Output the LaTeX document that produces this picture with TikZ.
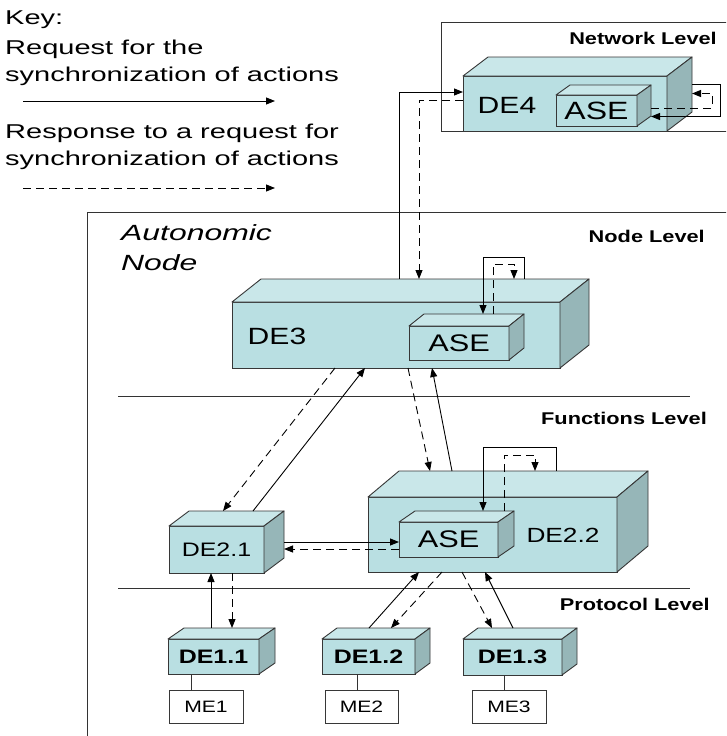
\documentclass[tikz,border=0pt]{standalone}
\usepackage{fontspec}
\setmainfont{Liberation Sans}[FakeStretch=1.28]
\newfontfamily\keyfont{Liberation Sans}[FakeStretch=1.45]
\usetikzlibrary{arrows.meta}

\definecolor{frontc}{RGB}{185,223,226}
\definecolor{topc}{RGB}{201,231,233}
\definecolor{sidec}{RGB}{150,182,184}
\definecolor{linec}{RGB}{55,55,55}

\newcommand{\fsz}[1]{\fontsize{#1}{#1}\selectfont}
% top and side face of a box, plus back anchors
\newcommand{\cubefaces}[3]{%
  \filldraw[topface] (#1.north west) -- ++(#2,-#3) -- ([shift={(#2,-#3)}]#1.north east) -- (#1.north east) -- cycle;
  \filldraw[sideface] (#1.north east) -- ++(#2,-#3) -- ([shift={(#2,-#3)}]#1.south east) -- (#1.south east) -- cycle;
  \coordinate (#1-tb) at ([shift={(#2,-#3)}]#1.north);
  \coordinate (#1-rb) at ([shift={(#2,-#3)}]#1.east);
}

\begin{document}
\begin{tikzpicture}[x=1pt,y=-1pt,
    front/.style={draw=linec, fill=frontc, line width=0.9pt, inner sep=0pt, outer sep=0pt},
    topface/.style={draw=linec, fill=topc, line width=0.9pt, line join=round},
    sideface/.style={draw=linec, fill=sidec, line width=0.9pt, line join=round},
    mebox/.style={draw=linec, fill=white, line width=0.9pt, inner sep=0pt, outer sep=0pt, font=\fsz{16.5}},
    frame/.style={draw=black!80, line width=0.9pt},
    req/.style={draw=black, line width=0.9pt, -{Triangle[length=9pt,width=7pt]}},
    resp/.style={req, dash pattern=on 8pt off 5pt},
    lvl/.style={font=\bfseries\fsz{17}, anchor=east, inner sep=0pt},
    keytxt/.style={font=\keyfont\fsz{20}, anchor=west, inner sep=0pt},
  ]
  \fill[white] (0,0) rectangle (726,736);
  \clip (0,0) rectangle (726,736);

  % Frames and level lines
  \draw[frame] (441,22) rectangle (740,131);
  \draw[frame] (87,212) rectangle (740,745);
  \draw[frame] (118,396) -- (690,396);
  \draw[frame] (118,588) -- (690,588);

  % Key
  \node[keytxt] (keyhead) at (5,20) {Key:};
  \node[keytxt] (reqtxt) at (5,49) {Request for the};
  \node[keytxt] (reqtxtb) at (5,76) {synchronization of actions};
  \coordinate (reqa) at (23,101);
  \coordinate (reqb) at (275,101);
  \draw[req] (reqa) -- (reqb);
  \node[keytxt] (resptxt) at (5,133) {Response to a request for};
  \node[keytxt] (resptxtb) at (5,160) {synchronization of actions};
  \coordinate (respa) at (23,188);
  \coordinate (respb) at (275,188);
  \draw[resp] (respa) -- (respb);

  % Level names
  \node[lvl] (netlvl) at (717,38) {Network Level};
  \node[lvl] (nodelvl) at (705,236) {Node Level};
  \node[lvl] (funclvl) at (707,418) {Functions Level};
  \node[lvl] (protlvl) at (710,604) {Protocol Level};
  \node[font=\keyfont\itshape\fontsize{22}{30}\selectfont, align=left, anchor=north west, inner sep=0pt] (autotxt) at (121,224) {Autonomic\\Node};

  % Network level
  \node[front, minimum width=204pt, minimum height=55pt] (DE4) at (565,103.5) {};
  \cubefaces{DE4}{25}{19}
  \node[font=\fsz{23.5}, inner sep=0pt] (DE4txt) at (507,105) {DE4};
  \node[front, minimum width=81pt, minimum height=31pt, font=\fsz{25}] (ASE4) at (596.5,110.5) {ASE};
  \cubefaces{ASE4}{14}{10}

  % Node level
  \node[front, minimum width=328pt, minimum height=66pt] (DE3) at (396,335) {};
  \cubefaces{DE3}{29}{23}
  \node[font=\fsz{23.5}, inner sep=0pt] (DE3txt) at (277,336) {DE3};
  \node[front, minimum width=100pt, minimum height=34pt, font=\fsz{24}] (ASE3) at (459,343) {ASE};
  \cubefaces{ASE3}{15}{12}

  % Functions level
  \node[front, minimum width=249pt, minimum height=75pt] (DE22) at (492.5,534.5) {};
  \cubefaces{DE22}{31}{26}
  \node[font=\fsz{20.5}, inner sep=0pt] (DE22txt) at (563,535) {DE2.2};
  \node[front, minimum width=99pt, minimum height=35pt, font=\fsz{24}] (ASE22) at (448.5,539.5) {ASE};
  \cubefaces{ASE22}{16}{11}
  \node[front, minimum width=95pt, minimum height=47pt, font=\fsz{19.5}] (DE21) at (216.5,549.5) {DE2.1};
  \cubefaces{DE21}{20}{15}

  % Protocol level
  \node[front, minimum width=91pt, minimum height=35pt, font=\bfseries\fsz{19.5}] (DE11) at (213.5,656.5) {DE1.1};
  \cubefaces{DE11}{16}{11}
  \node[front, minimum width=93pt, minimum height=35pt, font=\bfseries\fsz{19.5}] (DE12) at (368.5,656.5) {DE1.2};
  \cubefaces{DE12}{15}{11}
  \node[front, minimum width=99pt, minimum height=36pt, font=\bfseries\fsz{19.5}] (DE13) at (512.5,657) {DE1.3};
  \cubefaces{DE13}{15}{11}
  \node[mebox, minimum width=74pt, minimum height=33pt] (ME1) at (206,706.5) {ME1};
  \node[mebox, minimum width=73pt, minimum height=33pt] (ME2) at (361.5,706.5) {ME2};
  \node[mebox, minimum width=74pt, minimum height=33pt] (ME3) at (509,706.5) {ME3};
  \draw[frame] ([xshift=-15pt]ME1.north) -- ([xshift=-15pt]ME1.north |- DE11.south);
  \draw[frame] ([xshift=-4.5pt]ME2.north) -- ([xshift=-4.5pt]ME2.north |- DE12.south);
  \draw[frame] ([xshift=-5pt]ME3.north) -- ([xshift=-5pt]ME3.north |- DE13.south);

  % DE3 <-> DE4
  \draw[req] ([xshift=-26pt]DE3-tb) |- ([yshift=11.5pt]DE4.west);
  \draw[resp] ([yshift=3.5pt]DE4.west) -| ([xshift=-6pt]DE3-tb);
  % DE4 <-> its ASE
  \draw[req] (DE4-rb) -- ++(28,0) |- ([yshift=-16pt]ASE4-rb);
  \draw[resp] ([yshift=-7.5pt]ASE4-rb) -- ++(61,0) |- ([yshift=-9pt]DE4-rb);

  % DE3 <-> its ASE
  \draw[req] ([xshift=99pt]DE3-tb) -- ++(0,-22) -| ([xshift=9pt]ASE3-tb);
  \draw[resp] ([xshift=19pt]ASE3-tb) -- ++(0,-50) -| ([xshift=89pt]DE3-tb);

  % DE2.2 <-> its ASE
  \draw[req] ([xshift=32.5pt]DE22-tb) -- ++(0,-24) -| ([xshift=18.5pt]ASE22-tb);
  \draw[resp] ([xshift=39.5pt]ASE22-tb) -- ++(0,-56) -| ([xshift=11.5pt]DE22-tb);

  % DE3 <-> DE2.1 and DE2.2
  \draw[resp] ([xshift=-61pt]DE3.south) -- ([xshift=-13.5pt]DE21-tb);
  \draw[req] ([xshift=16.5pt]DE21-tb) -- ([xshift=-31pt]DE3.south);
  \draw[resp] ([xshift=12pt]DE3.south) -- ([xshift=-93.5pt]DE22-tb);
  \draw[req] ([xshift=-71.5pt]DE22-tb) -- ([xshift=36pt]DE3.south);

  % DE2.1 <-> ASE of DE2.2
  \draw[req] ([yshift=-7.5pt]DE21-rb) -- ([yshift=-2.5pt]ASE22.west);
  \draw[resp] ([yshift=-9.5pt]ASE22.west) -- ([yshift=-14.5pt]DE21-rb);

  % Protocol level <-> functions level
  \draw[req] ([xshift=-18.5pt]DE11-tb) -- ([xshift=-5.5pt]DE21.south);
  \draw[resp] ([xshift=15.5pt]DE21.south) -- ([xshift=2.5pt]DE11-tb);
  \draw[req] ([xshift=-14.5pt]DE12-tb) -- ([xshift=-73.5pt]DE22.south);
  \draw[resp] ([xshift=-50.5pt]DE22.south) -- ([xshift=7.5pt]DE12-tb);
  \draw[resp] ([xshift=-30.5pt]DE22.south) -- ([xshift=-35.5pt]DE13-tb);
  \draw[req] ([xshift=-14.5pt]DE13-tb) -- ([xshift=-7.5pt]DE22.south);
\end{tikzpicture}
\end{document}
